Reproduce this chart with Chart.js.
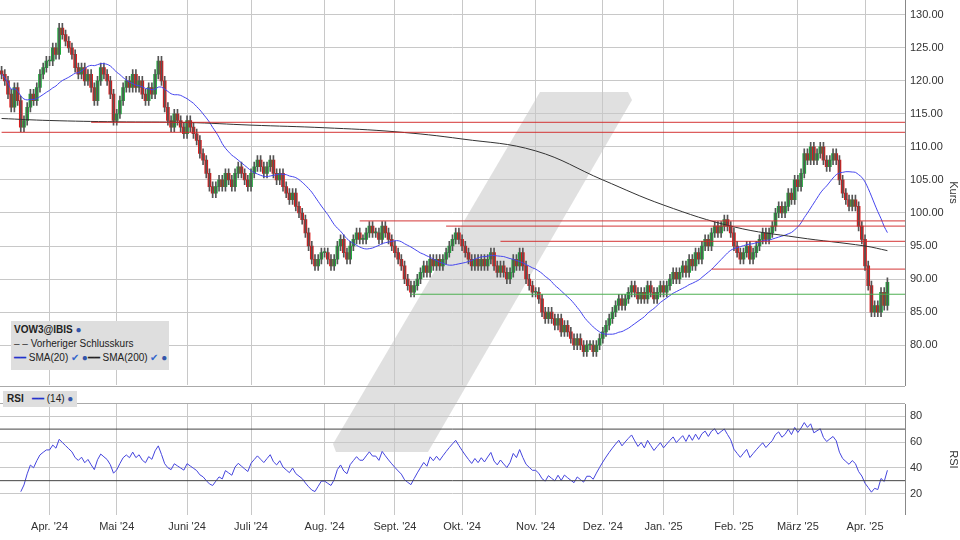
<!DOCTYPE html>
<html><head><meta charset="utf-8">
<script src="https://cdn.jsdelivr.net/npm/chart.js@4"></script>
<style>
body{margin:0;width:960px;height:540px;background:#fff;font-family:"Liberation Sans",Arial,sans-serif;position:relative;overflow:hidden}
#wm{position:absolute;left:0;top:0;width:960px;height:540px;background:#d6d6d6;opacity:.75;clip-path:polygon(540px 92px,628px 92px,632px 100px,428px 452px,336px 452px,333px 444px);}
#c1{position:absolute;left:0;top:-12px}
#c2{position:absolute;left:0;top:390px}
.box{position:absolute;background:#dedede;font-size:10px;color:#222;white-space:nowrap}
.sep{position:absolute;left:0;width:905px;border-top:1px solid #aaa}
</style></head><body>
<div id="wm"></div>
<canvas id="c1" width="960" height="409"></canvas>
<canvas id="c2" width="960" height="150"></canvas>
<div class="sep" style="top:386px"></div>
<div class="sep" style="top:403px"></div>
<div class="box" style="left:11px;top:321px;width:152px;height:45px;padding:2px 3px;line-height:14px">
<b>VOW3@IBIS</b> <span style="color:#3355aa">●</span><br>
<span style="color:#333">‒ ‒</span> Vorheriger Schlusskurs<br>
<span style="color:#2233cc">━━</span> SMA(20) <span style="color:#36c">✔</span> <span style="color:#3355aa">●</span><span>━━</span> SMA(200) <span style="color:#36c">✔</span> <span style="color:#3355aa">●</span>
</div>
<div class="box" style="left:3px;top:391px;padding:1px 4px;line-height:14px"><b>RSI</b> &nbsp; <span style="color:#2233cc">━━</span> (14) <span style="color:#3355aa">●</span></div>
<script>
const closes = [
121,120,118,116,119,117,113,114,116,118,117,119,121,122,123,
123,125,124,128,127,126,125,124,122,121,122,120,121,119,117,120,122,121,120,118,114,
115,117,119,120,119,121,119,120,118,117,119,118,121,123,120,116,114,113,115,114,113,112,
114,113,112,111,109,108,106,104,103,104,105,104,106,105,104,106,107,106,105,104,
106,107,108,107,106,107,108,106,105,106,104,103,102,103,101,100,99,97,95,93,92,93,94,
94,93,92,93,95,96,94,93,95,96,97,96,96,97,98,97,97,96,98,97,96,95,
94,93,92,90,89,88,89,90,91,92,91,93,92,93,92,93,94,95,96,97,96,
95,94,93,92,93,92,93,92,93,94,92,91,92,91,90,91,93,92,94,92,90,89,88,
88,87,85,84,85,84,83,84,82,83,82,81,80,81,80,79,80,80,79,80,81,
82,83,84,85,86,87,86,87,88,89,88,87,88,87,89,88,87,88,89,
88,89,90,91,90,91,92,91,93,92,94,93,95,96,95,97,98,97,98,99,98,97,
95,94,93,94,95,93,94,95,96,97,96,97,98,100,101,100,101,103,102,105,
104,106,109,108,110,108,109,110,108,107,108,109,108,105,103,102,101,102,101,98,96,
92,89,85,86,85,88,86,89.5];
const firstOpen = 121.5;
const sma200Idx = [0,15,36,58,78,101,123,144,167,188,207,229,249,270,277];
const sma200Val = [114.3,114,113.8,113.7,113.3,112.9,112.3,111.2,109.4,105,101.2,97.9,96.3,95,94.3];
const monthIdx = [15,36,58,78,101,123,144,167,188,207,229,249,270];
const monthLbl = ["Apr. '24","Mai '24","Juni '24","Juli '24","Aug. '24","Sept. '24","Okt. '24","Nov. '24","Dez. '24","Jan. '25","Feb. '25","März '25","Apr. '25"];
const levels = [113.7,112.2,98.8,98.0,95.7,91.5];
const levelStart = [28,0,112,139,156,222];
const greenLevel = 87.7, greenStart = 128;
const XMAX = 282.5;

const opens = closes.map((c,i)=> i===0?firstOpen:closes[i-1]);
const wick = 0.7;
const wicks=[], bodies=[], bodyCol=[];
closes.forEach((c,i)=>{const o=opens[i];
  wicks.push({x:i,y:[Math.min(o,c)-wick,Math.max(o,c)+wick]});
  bodies.push({x:i,y:[Math.min(o,c),Math.max(o,c)+(o===c?0.15:0)]});
  bodyCol.push(c>=o?'#1faa3c':'#dd1a1a');});
const sma20 = closes.map((c,i)=>{const s=closes.slice(Math.max(0,i-19),i+1);return {x:i,y:s.reduce((a,b)=>a+b,0)/s.length};});
const sma200 = sma200Idx.map((x,i)=>({x,y:sma200Val[i]}));
const rsi=[];let ag=0,al=0;
for(let i=1;i<closes.length;i++){const d=closes[i]-closes[i-1];const g=Math.max(d,0),l=Math.max(-d,0);
  const n=Math.min(i,14);ag=(ag*(n-1)+g)/n;al=(al*(n-1)+l)/n;
  if(i>=6) rsi.push({x:i,y:al===0?70:100-100/(1+ag/al)});}

const grid={color:'#c8c8c8',borderDash:[2,2],drawTicks:false};
const xScale=(show)=>({type:'linear',offset:false,min:-0.5,max:XMAX,grid:{...grid,offset:false},border:{display:false},
  afterBuildTicks:ax=>{ax.ticks=monthIdx.map(v=>({value:v}));},
  ticks:{display:show,autoSkip:false,maxRotation:0,padding:6,color:'#333',font:{size:11},callback:(v)=>{const k=monthIdx.indexOf(v);return k<0?'':monthLbl[k];}}});
const fixW=ax=>{ax.width=55;};
Chart.defaults.font.family='"Liberation Sans",Arial,sans-serif';
Chart.defaults.animation=false;

const ds=[];
levels.forEach((v,i)=>ds.push({type:'line',data:[{x:levelStart[i],y:v},{x:XMAX,y:v}],borderColor:'rgba(210,40,40,0.75)',borderWidth:1.3,pointRadius:0}));
ds.push({type:'line',data:[{x:greenStart,y:greenLevel},{x:XMAX,y:greenLevel}],borderColor:'#4caf50',borderWidth:1,pointRadius:0});
ds.push({type:'line',data:sma200,borderColor:'#333',borderWidth:1,pointRadius:0,tension:0.4});
ds.push({type:'line',data:sma20,borderColor:'#4444ee',borderWidth:1,pointRadius:0,tension:0.3});
ds.push({type:'bar',data:wicks,backgroundColor:'#555',barThickness:1,grouped:false});
ds.push({type:'bar',data:bodies,backgroundColor:bodyCol,barThickness:3,grouped:false,minBarLength:1});

new Chart(document.getElementById('c1'),{data:{datasets:ds},options:{responsive:false,
  layout:{padding:{left:0,right:0,top:0,bottom:4}},
  plugins:{legend:{display:false},tooltip:{enabled:false}},
  scales:{x:xScale(false),
    y:{position:'right',min:73.9,max:132.3,afterFit:fixW,grid:{...grid},border:{color:'#888'},
      afterBuildTicks:ax=>{ax.ticks=[80,85,90,95,100,105,110,115,120,125,130].map(v=>({value:v}));},
      ticks:{padding:5,color:'#333',font:{size:11},callback:v=>v.toFixed(2)},
      title:{display:true,text:'Kurs',color:'#333',font:{size:11},padding:0}}}}});

new Chart(document.getElementById('c2'),{data:{datasets:[
  {type:'line',data:[{x:-0.5,y:70},{x:XMAX,y:70}],borderColor:'#444',borderWidth:1,pointRadius:0},
  {type:'line',data:[{x:-0.5,y:30},{x:XMAX,y:30}],borderColor:'#444',borderWidth:1,pointRadius:0},
  {type:'line',data:rsi,borderColor:'#4444dd',borderWidth:1,pointRadius:0}]},
 options:{responsive:false,layout:{padding:{left:0,right:0,top:14,bottom:0}},
  plugins:{legend:{display:false},tooltip:{enabled:false}},
  scales:{x:xScale(true),
    y:{position:'right',min:3.5,max:89.5,afterFit:fixW,grid:{...grid},border:{color:'#888'},
      afterBuildTicks:ax=>{ax.ticks=[20,40,60,80].map(v=>({value:v}));},
      ticks:{padding:5,color:'#333',font:{size:11}},
      title:{display:true,text:'RSI',color:'#333',font:{size:11},padding:0}}}}});
</script></body></html>
